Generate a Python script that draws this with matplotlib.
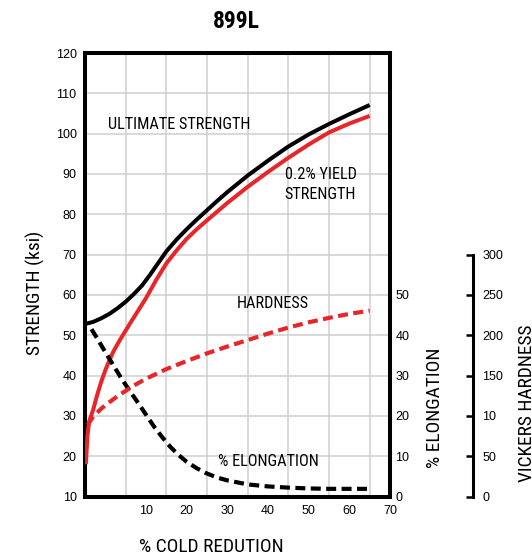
import matplotlib
matplotlib.use("Agg")
import matplotlib.pyplot as plt
from matplotlib import font_manager

# curve data (x = % cold reduction as labelled)
ult_x = [-5, -3, -1, 1, 3, 5, 7, 9, 11, 13, 15, 17.5, 20, 22.5, 25, 27.5, 30, 35, 40, 45, 50, 55, 60, 65]
ult_y = [52.8, 53.3, 54.2, 55.3, 56.7, 58.3, 60.2, 62.3, 65.0, 67.9, 70.8, 73.7, 76.3, 78.7, 81.0, 83.3, 85.5, 89.6, 93.3, 96.8, 99.8, 102.4, 104.8, 107.1]

yld_x = [-4.8, -4.4, -4, -3, -2, -1, 0, 1, 2, 3, 4, 6, 8, 10, 12.5, 15, 17.5, 20, 22.5, 25, 30, 35, 40, 45, 50, 55, 60, 65]
yld_y = [18, 25, 28.5, 31.5, 35.2, 38.5, 41.3, 43.8, 46, 47.8, 49.5, 52.8, 56, 59.2, 63.7, 67.8, 71, 73.9, 76.3, 78.5, 82.8, 86.8, 90.5, 94.0, 97.3, 100.3, 102.5, 104.4]

hard_x = [-4.3, -3, -1, 1, 3, 5, 7.5, 10, 12.5, 15, 20, 25, 30, 35, 40, 45, 50, 55, 60, 65]
hard_hv = [89, 99, 109, 117, 124.5, 131, 139, 146, 152, 158, 168, 177.5, 186, 194, 202, 209.5, 216, 221.5, 226.5, 230.5]

elong_x = [-3.4, -2, 0, 2, 4, 6, 8, 10, 12, 14, 16, 18, 20, 22.5, 25, 27.5, 30, 35, 40, 45, 50, 55, 60, 65]
elong_y = [41.5, 39.2, 35.8, 32.5, 29.2, 26.2, 23.3, 20.3, 17.3, 14.7, 12.3, 10.3, 8.6, 7.0, 5.7, 4.7, 4.0, 3.0, 2.5, 2.2, 2.0, 1.9, 1.9, 1.9]

x_ticks = [10, 20, 30, 40, 50, 60, 70]
strength_ticks = list(range(10, 121, 10))
elong_ticks = [0, 10, 20, 30, 40, 50]
hv_ticks = [0, 50, 100, 150, 200, 250, 300]
hv_labels = ["0", "50", "10", "150", "200", "250", "300"]

RED = "#e8262a"
W, H = 532, 556

names = {f.name for f in font_manager.fontManager.ttflist}


def pick(*cands):
    for c in cands:
        if c in names:
            return c
    return "DejaVu Sans"


NARROW = pick("Liberation Sans Narrow", "Roboto Condensed", "Arial Narrow", "Roboto", "Liberation Sans")
REG = pick("Liberation Sans", "Arial", "Roboto")

fig = plt.figure(figsize=(W / 100, H / 100), dpi=100)
ax = fig.add_axes([85 / W, 1 - 496.5 / H, 305 / W, 443.5 / H])

ax.set_xlim(-5, 70)
ax.set_ylim(10, 120)
ax.set_xticks(x_ticks)
ax.set_xticks([5, 15, 25, 35, 45, 55, 65], minor=True)
ax.set_yticks(strength_ticks)
ax.grid(which="minor", axis="x", color="#cfcfcf", lw=1.1)
ax.grid(which="major", axis="y", color="#cfcfcf", lw=1.1)
ax.tick_params(which="both", length=0)
ax.tick_params(axis="x", pad=6)
ax.tick_params(axis="y", pad=6)
for lab in ax.get_xticklabels() + ax.get_yticklabels():
    lab.set_family(REG)
    lab.set_fontsize(9)
for s in ax.spines.values():
    s.set_linewidth(2.9)

ax.plot(yld_x, yld_y, color=RED, lw=2.9, solid_capstyle="butt", zorder=3)
ax.plot(ult_x, ult_y, color="black", lw=2.9, solid_capstyle="butt", zorder=4)

# % elongation axis (shares the right spine)
ax_el = ax.twinx()
ax_el.set_ylim(0, 110)
ax_el.set_yticks(elong_ticks)
ax_el.tick_params(length=0, pad=4)
for lab in ax_el.get_yticklabels():
    lab.set_family(REG)
    lab.set_fontsize(9)
for s in ax_el.spines.values():
    s.set_visible(False)
ax_el.plot(elong_x, elong_y, color="black", lw=3, dashes=(2.4, 1.3), zorder=4)

# vickers hardness axis
ax_hv = ax.twinx()
ax_hv.set_ylim(0, 550)
ax_hv.set_yticks(hv_ticks)
ax_hv.set_yticklabels(hv_labels)
for k in ["top", "bottom", "left"]:
    ax_hv.spines[k].set_visible(False)
ax_hv.spines["right"].set_position(("axes", (472.7 - 85) / 305))
ax_hv.spines["right"].set_bounds(0, 300)
ax_hv.spines["right"].set_linewidth(2.2)
ax_hv.tick_params(direction="in", length=5, width=1.8, pad=7)
for lab in ax_hv.get_yticklabels():
    lab.set_family(REG)
    lab.set_fontsize(9)
ax_hv.plot(hard_x, hard_hv, color=RED, lw=3, dashes=(2.4, 1.3), zorder=3)

# text
renderer = fig.canvas.get_renderer()


def fit_size(txt, width_px):
    t = fig.text(0, 0, txt, family=NARROW, fontsize=12)
    w = t.get_window_extent(renderer).width
    t.remove()
    return 12 * width_px / w


in_size = fit_size("ULTIMATE STRENGTH", 142)
lab_size = fit_size("% COLD REDUTION", 144)

ax.text(0.66, 101.07, "ULTIMATE STRENGTH", family=NARROW, fontsize=in_size, va="baseline")
ax.text(44.2, 88.66, "0.2% YIELD", family=NARROW, fontsize=in_size, va="baseline")
ax.text(44.0, 83.8, "STRENGTH", family=NARROW, fontsize=in_size, va="baseline")
ax.text(32.4, 56.65, "HARDNESS", family=NARROW, fontsize=in_size, va="baseline")
ax.text(27.7, 17.5, "% ELONGATION", family=NARROW, fontsize=in_size, va="baseline")

fig.text(213.3 / W, 1 - 28.3 / H, "899L", family=NARROW, fontweight="bold",
         fontsize=fit_size("899L", 46), va="baseline")
fig.text(139 / W, 1 - 551.7 / H, "% COLD REDUTION", family=NARROW, fontsize=lab_size, va="baseline")
fig.text(35.3 / W, 1 - 292.5 / H, "STRENGTH (ksi)", family=NARROW, fontsize=lab_size,
         rotation=90, ha="center", va="center")
fig.text(434.5 / W, 1 - 407.5 / H, "% ELONGATION", family=NARROW, fontsize=lab_size,
         rotation=90, ha="center", va="center")
fig.text(527.5 / W, 1 - 403 / H, "VICKERS HARDNESS", family=NARROW, fontsize=lab_size,
         rotation=90, ha="center", va="center")

fig.savefig("out.png", dpi=100)
